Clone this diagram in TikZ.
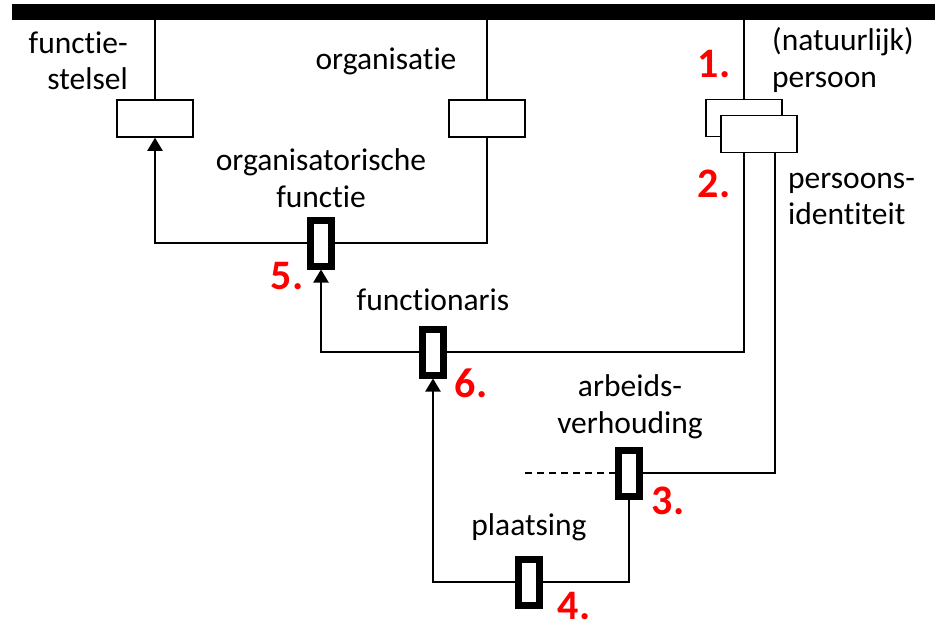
\documentclass[tikz,border=0pt]{standalone}
\usepackage{fontspec}
\setmainfont[Ligatures={NoCommon}]{Carlito}
\usetikzlibrary{arrows.meta,calc}
\begin{document}
\begin{tikzpicture}[x=1pt,y=-1pt,
  txt/.style={inner sep=0pt,font=\fontsize{31.5}{36.5}\selectfont},
  num/.style={inner sep=0pt,anchor=base,text=red,text depth=0pt,font=\fontsize{42}{44}\selectfont\bfseries},
  entbox/.style={draw,fill=white,line width=1.5pt,minimum width=76pt,minimum height=37pt,inner sep=0pt},
  relbox/.style={draw,fill=white,line width=7pt,minimum width=21pt,minimum height=46pt,inner sep=0pt},
  conn/.style={line width=2pt},
  arr/.style={conn,-{Triangle[length=13pt,width=15pt]}}]
\useasboundingbox (0,0) rectangle (935,627);
\node[fill=black,minimum width=923pt,minimum height=16pt,inner sep=0pt,anchor=north west] (bar) at (12,4) {};
% entity boxes
\node[entbox] (fs) at (155,118.5) {};
\node[entbox] (org) at (487,118.5) {};
\node[entbox] (np1) at (744,118) {};
\node[entbox] (np2) at (759,134) {};
% relation boxes
\node[relbox] (b5) at (321,243) {};
\node[relbox] (b6) at (433,352) {};
\node[relbox] (b3) at (629,473) {};
\node[relbox] (b4) at (529,582) {};
% connectors to bar
\draw[conn] (fs.north) -- (fs.north |- bar.south);
\draw[conn] (org.north) -- (org.north |- bar.south);
\draw[conn] (np1.north) -- (np1.north |- bar.south);
% connectors
\draw[conn] (np1 |- np2.south) |- (b6.east);
\draw[conn] ($(np2.south)+(16,0)$) |- (b3.east);
\coordinate (dashend) at (525,473);
\draw[conn,line width=1.5pt,dash pattern=on 7pt off 5pt] (dashend) -- (b3.west);
\draw[conn] (b3.south) |- (b4.east);
\draw[arr] (b4.west) -| (b6.south);
\draw[arr] (b6.west) -| (b5.south);
\draw[arr] (b5.west) -| (fs.south);
\draw[conn] (b5.east) -| (org.south);
% redraw relation boxes on top
\node[relbox] at (b5) {};
\node[relbox] at (b6) {};
\node[relbox] at (b3) {};
\node[relbox] at (b4) {};
% labels
\node[txt,align=right,anchor=east] (tfs) at (128,61) {functie-\\stelsel};
\node[txt] (torg) at (386,61) {organisatie};
\node[txt,align=left,anchor=west] (tnp) at (772,60) {(natuurlijk)\\persoon};
\node[txt,align=left,anchor=west] (tpi) at (788,199) {persoons-\\identiteit};
\node[txt,align=center] (tof) at (321,178) {organisatorische\\functie};
\node[txt] (tfu) at (433,300) {functionaris};
\node[txt,align=center] (tav) at (630,407) {arbeids-\\verhouding};
\node[txt] (tpl) at (529,527) {plaatsing};
% numbers
\node[num] (n1) at (714,77) {1.};
\node[num] (n2) at (714,197) {2.};
\node[num] (n3) at (668,514) {3.};
\node[num] (n4) at (574,619) {4.};
\node[num] (n5) at (287,289) {5.};
\node[num] (n6) at (471,397) {6.};
\end{tikzpicture}
\end{document}
